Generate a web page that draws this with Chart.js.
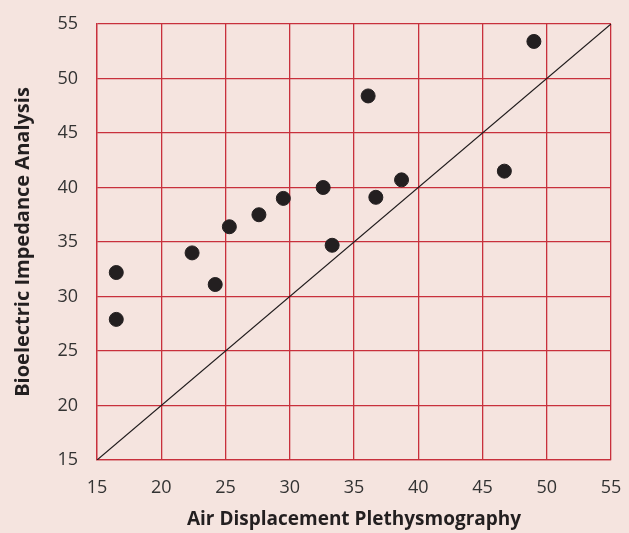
<!DOCTYPE html>
<html><head><meta charset="utf-8">
<script src="https://cdn.jsdelivr.net/npm/chart.js@4"></script>
<style>html,body{margin:0;padding:0;background:#f5e4df;}canvas{display:block;}</style>
</head><body>
<canvas id="c" width="629" height="533"></canvas>
<script>
const adpValues = [16.5, 16.5, 22.4, 24.2, 25.3, 27.6, 29.5, 32.6, 33.3, 36.1, 36.7, 38.7, 46.7, 49.0];
const biaValues = [32.2, 27.9, 34.0, 31.1, 36.4, 37.5, 39.0, 40.0, 34.7, 48.4, 39.1, 40.7, 41.5, 53.4];
const identityLine = [15, 55];
const xTitle = 'Air Displacement Plethysmography';
const yTitle = 'Bioelectric Impedance Analysis';

const points = adpValues.map((x, i) => ({x, y: biaValues[i]}));
const linePts = identityLine.map(v => ({x: v, y: v}));
const gridColor = '#c8303c';
const font = "'Open Sans', 'DejaVu Sans', sans-serif";

new Chart(document.getElementById('c'), {
  type: 'scatter',
  data: {
    datasets: [
      {type: 'line', data: linePts, borderColor: '#1e1a1b', borderWidth: 1.2, pointRadius: 0, fill: false},
      {data: points, backgroundColor: '#231f20', borderColor: '#231f20', pointRadius: 7, pointHoverRadius: 7}
    ]
  },
  options: {
    responsive: false,
    animation: false,
    layout: {padding: {left: 0, right: 18, top: 24, bottom: 0}},
    plugins: {legend: {display: false}, tooltip: {enabled: false}},
    scales: {
      x: {
        type: 'linear', min: 15, max: 55,
        afterFit: s => { s.height = 73; s.paddingLeft = 0; s.paddingRight = 0; },
        ticks: {stepSize: 5, color: '#333', font: {family: font, size: 18}, padding: 17, maxRotation: 0, minRotation: 0},
        grid: {color: gridColor, lineWidth: 1.3, drawTicks: false},
        border: {color: gridColor, width: 1.3},
        title: {display: true, text: xTitle, color: '#231f20', font: {family: font, size: 19, weight: 'bold'}, padding: {top: 0, bottom: 2}}
      },
      y: {
        type: 'linear', min: 15, max: 55,
        afterFit: s => { s.width = 97; s.paddingTop = 0; s.paddingBottom = 0; },
        ticks: {stepSize: 5, color: '#333', font: {family: font, size: 18}, padding: 19},
        grid: {color: gridColor, lineWidth: 1.3, drawTicks: false},
        border: {color: gridColor, width: 1.3},
        title: {display: true, text: yTitle, color: '#231f20', font: {family: font, size: 20, weight: 'bold'}, padding: {top: 11, bottom: 0}}
      }
    }
  }
});
</script>
</body></html>
